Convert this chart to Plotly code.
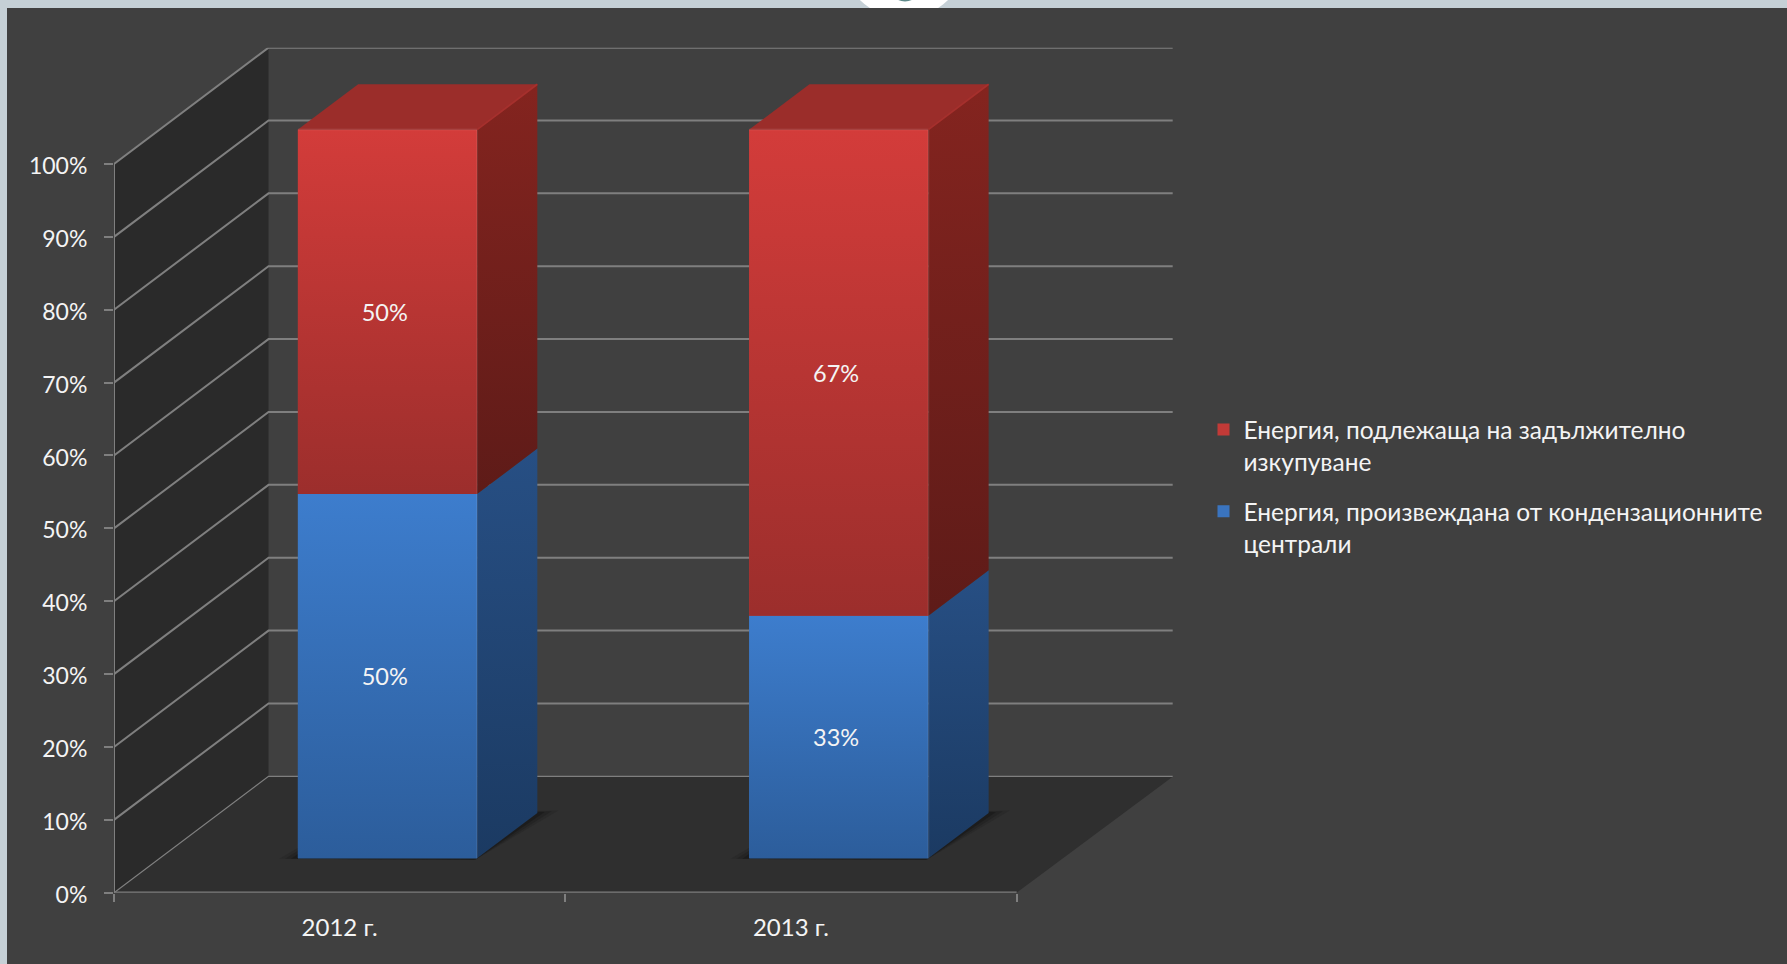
import plotly.graph_objects as go

# ---- data ----
CATEGORIES = ["2012 г.", "2013 г."]
BLUE_NAME = "Енергия, произвеждана от кондензационните<br>централи"
RED_NAME = "Енергия, подлежаща на задължително<br>изкупуване"
BLUE_VALUES = [50.0, 33.3]
RED_VALUES = [50.0, 66.7]
Y_TICKS = [0, 10, 20, 30, 40, 50, 60, 70, 80, 90, 100]

# ---- oblique 3-D look ----
W, H = 1787, 964
X0_PX, X_UNIT_PX = 114.0, 451.3
Y0_PX, Y_UNIT_PX = 892.7, 7.287
RIGHT_PX, TOP_PX = 1172.7, 47.7
DX, DY = 0.3424, 15.97
BAR_W, D0, D1, SHIFT = 0.397, 0.2955, 0.6855, 0.0048
BACK_EXTRA = 0.005
FONT = "Lato"
TXT = "#f4f4f4"
GRID = "#7f7f7f"
BG = "#404040"
PAGE = "#c5d0d6"

xr = [0, (RIGHT_PX - X0_PX) / X_UNIT_PX]
yr = [0, (Y0_PX - TOP_PX) / Y_UNIT_PX]
N = len(CATEGORIES)


def pr(x, v, d):
    return x + d * DX, v + d * DY


def poly(pts):
    xs, ys = [], []
    for p in pts + pts[:1]:
        a, b = pr(*p)
        xs.append(a)
        ys.append(b)
    return xs, ys


def vgrad(top, bottom):
    return dict(type="vertical", colorscale=[[0, bottom], [1, top]])


fig = go.Figure()


def add_face(pts, axes=("x", "y"), color=None, grad=None, opacity=1.0):
    xs, ys = poly(pts)
    kw = dict(fillcolor=color) if color else dict(fillgradient=grad)
    fig.add_trace(go.Scatter(x=xs, y=ys, mode="lines", fill="toself",
                             line=dict(width=0, color="rgba(0,0,0,0)"),
                             opacity=opacity, hoverinfo="skip", showlegend=False,
                             xaxis=axes[0], yaxis=axes[1], cliponaxis=False, **kw))


def add_line(pts, color=GRID, width=1.6, axes=("x", "y")):
    xs, ys = [], []
    for p in pts:
        a, b = pr(*p)
        xs.append(a)
        ys.append(b)
    fig.add_trace(go.Scatter(x=xs, y=ys, mode="lines", line=dict(color=color, width=width),
                             hoverinfo="skip", showlegend=False, xaxis=axes[0], yaxis=axes[1],
                             cliponaxis=False))


# walls and floor
top_v = max(Y_TICKS)
add_face([(0, 0, 0), (0, 0, 1), (0, top_v, 1), (0, top_v, 0)], color="#2a2a2a")
add_face([(0, 0, 0), (N, 0, 0), (N + BACK_EXTRA, 0, 1), (0, 0, 1)], color="#2f2f2f")

# gridlines on the side wall and the back wall
for v in Y_TICKS:
    add_line([(0, v, 0), (0, v, 1), (N + BACK_EXTRA, v, 1)], width=1.3 if v == 0 else 2.0)
add_line([(0, 0, 0), (0, top_v, 0)], width=2.0)
add_line([(0, 0, 0), (N, 0, 0)], width=2.4)

# floor shadows
for i in range(N):
    c = i + 0.5 + SHIFT
    for grow, op in ((0.040, 0.18), (0.027, 0.28), (0.014, 0.42)):
        add_face([(c - BAR_W / 2 - grow, 0, D0 - 0.004), (c + BAR_W / 2, 0, D0 - 0.012),
                  (c + BAR_W / 2 + grow, 0, D1 + grow * 0.5), (c - BAR_W / 2, 0, D1)],
                 color="#141414", opacity=op)

# front faces: real bars on an overlaid pair of axes
centers = [i + 0.5 + SHIFT + D0 * DX for i in range(N)]
base_shift = D0 * DY
blue_base = [base_shift] * N
red_base = [base_shift + b for b in BLUE_VALUES]
fig.add_trace(go.Bar(x=centers, y=BLUE_VALUES, base=blue_base, width=BAR_W, name=BLUE_NAME,
                     legendgroup="blue", legendrank=2,
                     marker=dict(color="#3a74bf", line_width=0), xaxis="x2", yaxis="y2",
                     hoverinfo="skip"))
fig.add_trace(go.Bar(x=centers, y=RED_VALUES, base=red_base, width=BAR_W, name=RED_NAME,
                     legendgroup="red", legendrank=1,
                     marker=dict(color="#c23a37", line_width=0), xaxis="x2", yaxis="y2",
                     hoverinfo="skip"))

AX2 = ("x2", "y2")
EDGE = "rgba(255,255,255,0.07)"
SERIES = [
    (BLUE_VALUES, [0.0] * N, ("#3d7dcd", "#2c5d9b"), ("#274f84", "#1b3a62")),
    (RED_VALUES, BLUE_VALUES, ("#d33c3a", "#9c2e2c"), ("#84241f", "#5e1b18")),
]
for vals, lows, front, side in SERIES:
    for i in range(N):
        c = i + 0.5 + SHIFT
        l, r = c - BAR_W / 2, c + BAR_W / 2
        lo, hi = lows[i], lows[i] + vals[i]
        add_face([(l, lo, D0), (r, lo, D0), (r, hi, D0), (l, hi, D0)], axes=AX2,
                 grad=vgrad(*front))
        add_face([(r, lo, D0), (r, lo, D1), (r, hi, D1), (r, hi, D0)], axes=AX2,
                 grad=vgrad(*side))
        add_line([(r, lo, D0), (r, hi, D0)], color=EDGE, width=2.0, axes=AX2)

# lids
for i in range(N):
    c = i + 0.5 + SHIFT
    l, r = c - BAR_W / 2, c + BAR_W / 2
    hi = BLUE_VALUES[i] + RED_VALUES[i]
    add_face([(l, hi, D0), (r, hi, D0), (r, hi, D1), (l, hi, D1)], axes=AX2, color="#9b2d2a")
    add_line([(l, hi, D0), (r, hi, D0)], color=EDGE, width=2.0, axes=AX2)
    add_line([(r, hi, D0), (r, hi, D1)], color="#a6302d", width=1.8, axes=AX2)

# value labels
lx, ly, lt = [], [], []
for vals, lows in ((BLUE_VALUES, [0.0] * N), (RED_VALUES, BLUE_VALUES)):
    for i in range(N):
        a, b = pr(i + 0.5 + SHIFT - 0.006, lows[i] + vals[i] / 2 - 0.45, D0)
        lx.append(a)
        ly.append(b)
        lt.append(f"{vals[i]:.0f}%")
fig.add_trace(go.Scatter(x=lx, y=ly, text=lt, mode="text", textposition="middle center",
                         textfont=dict(family=FONT, size=23.5, color=TXT), hoverinfo="skip",
                         showlegend=False, xaxis="x2", yaxis="y2"))

dom_x = [X0_PX / W, RIGHT_PX / W]
dom_y = [(H - Y0_PX) / H, (H - TOP_PX) / H]
fig.update_layout(
    width=W, height=H, margin=dict(l=0, r=0, t=0, b=0), autosize=False,
    paper_bgcolor=PAGE, plot_bgcolor="rgba(0,0,0,0)", barmode="overlay",
    font=dict(family=FONT, size=23, color=TXT),
    hovermode=False,
    xaxis=dict(domain=dom_x, range=xr, fixedrange=True, showgrid=False, zeroline=False,
               automargin=False,
               showline=False, tickmode="array", tickvals=[i + 0.5 for i in range(N)],
               ticktext=CATEGORIES, ticks="", ticklabelstandoff=18,
               tickfont=dict(family=FONT, size=24, color=TXT),
               minor=dict(tickmode="array", tickvals=list(range(N + 1)), ticks="outside",
                          ticklen=8, tickcolor=GRID, tickwidth=2, showgrid=False)),
    yaxis=dict(domain=dom_y, range=yr, fixedrange=True, showgrid=False, zeroline=False,
               automargin=False,
               showline=False, tickmode="array", tickvals=Y_TICKS,
               ticktext=[f"{v}%" for v in Y_TICKS], ticks="outside", ticklen=9,
               tickcolor=GRID, tickwidth=2, ticklabelstandoff=12, ticklabelshift=2),
    xaxis2=dict(overlaying="x", matches="x", visible=False, fixedrange=True),
    yaxis2=dict(overlaying="y", matches="y", visible=False, fixedrange=True),
    legend=dict(x=1203.5 / W, y=1 - 407 / H, xanchor="left", yanchor="top", valign="top",
                traceorder="grouped", tracegroupgap=15,
                bgcolor="rgba(0,0,0,0)", itemclick=False,
                itemdoubleclick=False, font=dict(family=FONT, size=24.5, color=TXT)),
    shapes=[
        dict(type="circle", xref="paper", yref="paper", layer="below",
             x0=841 / W, x1=967 / W, y0=1 - 18 / H, y1=1 + 108 / H,
             fillcolor="#ffffff", line_width=0),
        dict(type="circle", xref="paper", yref="paper", layer="below",
             x0=893 / W, x1=917 / W, y0=1 - 1.5 / H, y1=1 + 16 / H,
             fillcolor="#5f8a8a", line_width=0),
        dict(type="rect", xref="paper", yref="paper", layer="below",
             x0=7 / W, x1=1, y0=0, y1=1 - 8 / H, fillcolor=BG, line_width=0),
    ],
)

fig.write_html("out.html", config=dict(displayModeBar=False),
               post_script="document.body.style.margin='0';document.body.style.overflow='hidden';")
